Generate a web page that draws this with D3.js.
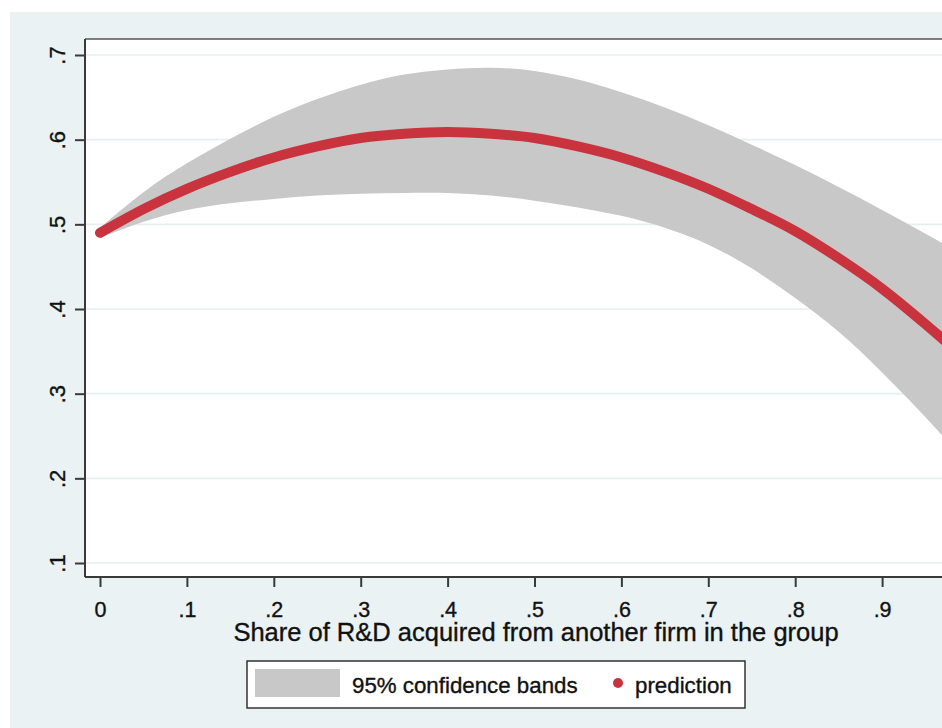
<!DOCTYPE html>
<html>
<head>
<meta charset="utf-8">
<script src="https://cdn.jsdelivr.net/npm/d3@7"></script>
<style>
  html, body { margin: 0; padding: 0; background: #ffffff; overflow: hidden; }
  svg { display: block; font-family: "Liberation Sans", Arial, Helvetica, sans-serif; }
</style>
</head>
<body>
<svg id="chart" width="942" height="728"></svg>
<script>
// ---- data ----
const shareX     = [0, 0.05, 0.1, 0.15, 0.2, 0.25, 0.3, 0.35, 0.4, 0.45, 0.5, 0.55, 0.6, 0.65, 0.7, 0.75, 0.8, 0.85, 0.9, 0.95, 1.0];
const prediction = [0.490, 0.518, 0.542, 0.562, 0.579, 0.592, 0.602, 0.607, 0.609, 0.607, 0.602, 0.592, 0.579, 0.562, 0.542, 0.518, 0.492, 0.460, 0.424, 0.382, 0.338];
const ciUpper    = [0.496, 0.538, 0.572, 0.601, 0.627, 0.648, 0.665, 0.677, 0.683, 0.685, 0.681, 0.671, 0.656, 0.638, 0.617, 0.594, 0.570, 0.544, 0.517, 0.489, 0.460];
const ciLower    = [0.484, 0.503, 0.517, 0.525, 0.530, 0.534, 0.536, 0.537, 0.537, 0.534, 0.528, 0.520, 0.510, 0.496, 0.476, 0.448, 0.413, 0.373, 0.325, 0.272, 0.215];
const xTicks     = [0, 0.1, 0.2, 0.3, 0.4, 0.5, 0.6, 0.7, 0.8, 0.9];
const xTickLabels = ["0", ".1", ".2", ".3", ".4", ".5", ".6", ".7", ".8", ".9"];
const yTicks     = [0.1, 0.2, 0.3, 0.4, 0.5, 0.6, 0.7];
const yTickLabels = [".1", ".2", ".3", ".4", ".5", ".6", ".7"];
const xTitle = "Share of R&D acquired from another firm in the group";
const legendLabels = ["95% confidence bands", "prediction"];

// ---- layout ----
const W = 942, H = 728;
const plot = { left: 85, top: 39, right: 990, bottom: 577 };
const x = d3.scaleLinear().domain([0, 1]).range([100, 969]);
const y = d3.scaleLinear().domain([0.1, 0.7]).range([563, 55]);

const colBg = "#eaf2f3", colBand = "#c8c8c8", colRed = "#c9333d", colAxis = "#3a3a3a", colText = "#111";

const svg = d3.select("#chart");
svg.append("rect").attr("x", 0).attr("y", 0).attr("width", W).attr("height", H).attr("fill", "#ffffff");
svg.append("rect").attr("x", 10).attr("y", 12).attr("width", W - 10).attr("height", H - 12).attr("fill", colBg);

// plot region
svg.append("rect").attr("x", plot.left).attr("y", plot.top)
  .attr("width", plot.right - plot.left).attr("height", plot.bottom - plot.top)
  .attr("fill", "#ffffff");

svg.append("clipPath").attr("id", "clip").append("rect")
  .attr("x", plot.left).attr("y", plot.top)
  .attr("width", plot.right - plot.left).attr("height", plot.bottom - plot.top);

// gridlines
svg.append("g").selectAll("line").data(yTicks).join("line")
  .attr("x1", plot.left).attr("x2", plot.right)
  .attr("y1", d => y(d)).attr("y2", d => y(d))
  .attr("stroke", "#e6eff0").attr("stroke-width", 1.6);

const rows = shareX.map((v, i) => ({ x: v, p: prediction[i], lo: ciLower[i], hi: ciUpper[i] }));
const g = svg.append("g").attr("clip-path", "url(#clip)");

g.append("path").datum(rows)
  .attr("d", d3.area().x(d => x(d.x)).y0(d => y(d.lo)).y1(d => y(d.hi)).curve(d3.curveNatural))
  .attr("fill", colBand);

g.append("path").datum(rows)
  .attr("d", d3.line().x(d => x(d.x)).y(d => y(d.p)).curve(d3.curveNatural))
  .attr("fill", "none").attr("stroke", colRed).attr("stroke-width", 10)
  .attr("stroke-linecap", "round").attr("stroke-linejoin", "round");

// plot border (top)
svg.append("line").attr("x1", plot.left).attr("x2", plot.right).attr("y1", plot.top).attr("y2", plot.top)
  .attr("stroke", "#555").attr("stroke-width", 1.5);

function styleText(sel, size) {
  sel.attr("font-size", size).attr("fill", colText)
    .attr("stroke", colText).attr("stroke-width", 0.35)
    .attr("font-family", "'Liberation Sans', Arial, sans-serif");
}

// y axis
const yAxis = d3.axisLeft(y).tickValues(yTicks).tickSize(10).tickFormat((d, i) => yTickLabels[i]);
const ya = svg.append("g").attr("transform", `translate(${plot.left},0)`).call(yAxis);
ya.select(".domain").attr("d", `M0,${plot.top}V${plot.bottom}`).attr("stroke", colAxis).attr("stroke-width", 2);
ya.selectAll(".tick line").attr("stroke", colAxis).attr("stroke-width", 2);
ya.selectAll(".tick text")
  .attr("x", null).attr("dy", null)
  .attr("transform", "translate(-20,0) rotate(-90)")
  .attr("text-anchor", "middle")
  .call(styleText, 22);

// x axis
const xAxis = d3.axisBottom(x).tickValues(xTicks).tickSize(10).tickFormat((d, i) => xTickLabels[i]);
const xa = svg.append("g").attr("transform", `translate(0,${plot.bottom})`).call(xAxis);
xa.select(".domain").attr("d", `M${plot.left},0H${plot.right}`).attr("stroke", colAxis).attr("stroke-width", 2);
xa.selectAll(".tick line").attr("stroke", colAxis).attr("stroke-width", 2);
xa.selectAll(".tick text")
  .attr("y", 39.5).attr("dy", null)
  .call(styleText, 21.5);

// x title
svg.append("text").attr("x", 536).attr("y", 640.5).attr("text-anchor", "middle")
  .text(xTitle).call(styleText, 25.5);

// legend
const lg = svg.append("g");
lg.append("rect").attr("x", 247).attr("y", 661).attr("width", 498).attr("height", 47)
  .attr("fill", "#ffffff").attr("stroke", "#333").attr("stroke-width", 1.5);
lg.append("rect").attr("x", 255).attr("y", 669).attr("width", 85).attr("height", 28).attr("fill", colBand);
lg.append("text").attr("x", 352).attr("y", 693).text(legendLabels[0]).call(styleText, 22.3);
lg.append("circle").attr("cx", 618).attr("cy", 683).attr("r", 5).attr("fill", colRed);
lg.append("text").attr("x", 635).attr("y", 693).text(legendLabels[1]).call(styleText, 22.3);
</script>
</body>
</html>
